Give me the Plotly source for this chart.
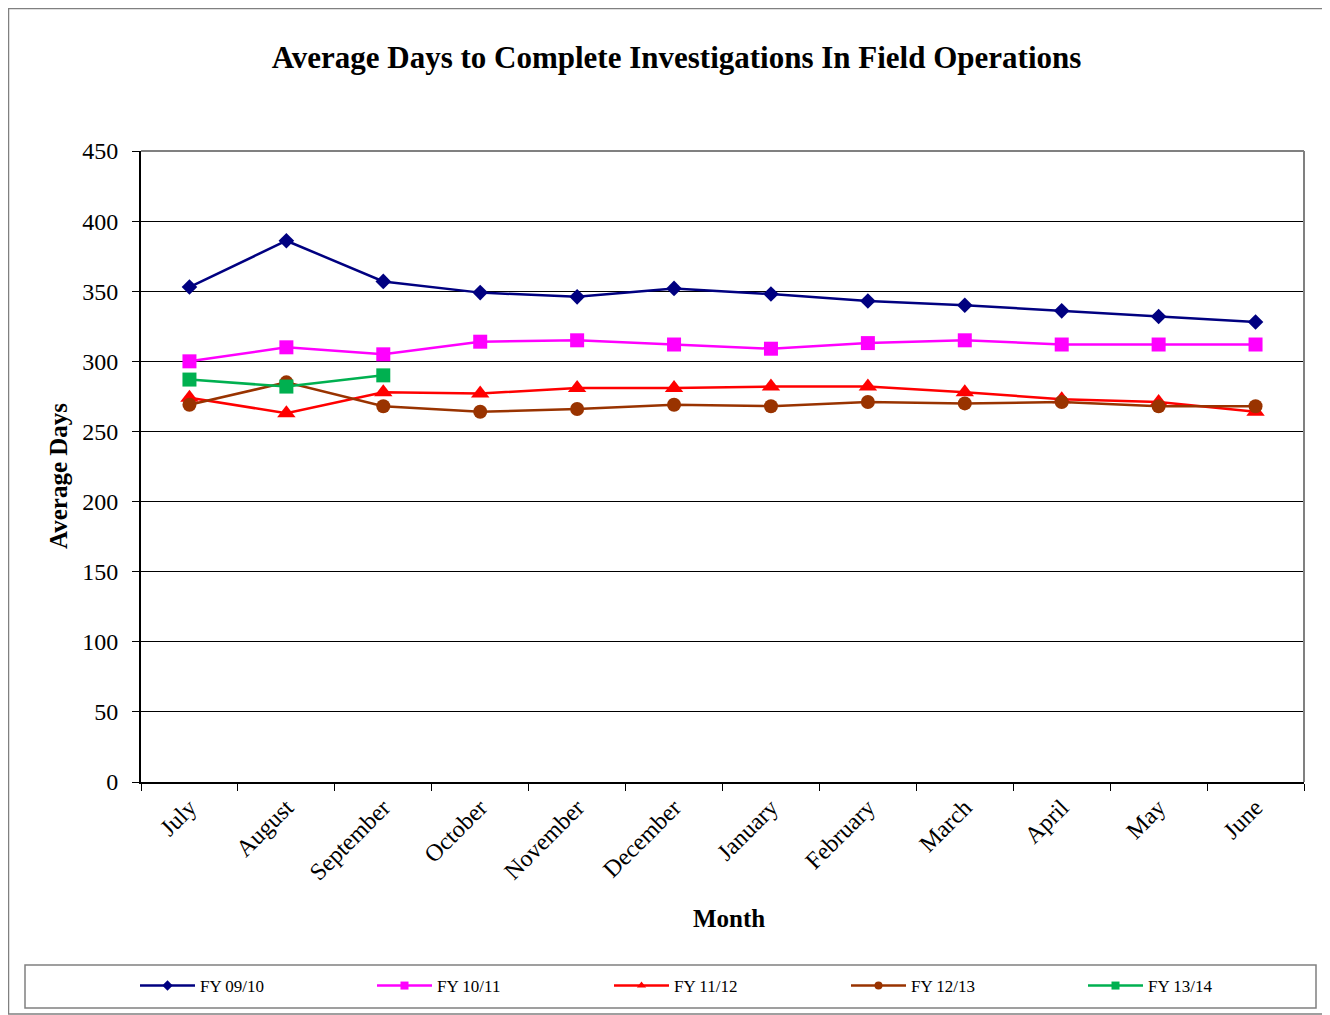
import plotly.graph_objects as go

months = ["July", "August", "September", "October", "November", "December",
          "January", "February", "March", "April", "May", "June"]

fy0910 = [353, 386, 357, 349, 346, 352, 348, 343, 340, 336, 332, 328]
fy1011 = [300, 310, 305, 314, 315, 312, 309, 313, 315, 312, 312, 312]
fy1112 = [274, 263, 278, 277, 281, 281, 282, 282, 278, 273, 271, 264]
fy1213 = [269, 285, 268, 264, 266, 269, 268, 271, 270, 271, 268, 268]
fy1314 = [287, 282, 290]

series = [
    ("FY 09/10", fy0910, "#000080", "diamond", 12),
    ("FY 10/11", fy1011, "#FF00FF", "square", 14),
    ("FY 11/12", fy1112, "#FF0000", "triangle-up", 16),
    ("FY 12/13", fy1213, "#993300", "circle", 14),
    ("FY 13/14", fy1314, "#00B050", "square", 14),
]

FONT = "Liberation Serif, Times New Roman, serif"

fig = go.Figure()
for name, vals, color, sym, sz in series:
    fig.add_trace(go.Scatter(
        x=months[:len(vals)], y=vals, name=name, mode="lines+markers",
        line=dict(color=color, width=2.5),
        marker=dict(symbol=sym, size=sz, color=color),
        showlegend=False, legendgroup=name,
    ))
# legend proxies with small markers, as in the reference legend
for name, vals, color, sym, sz in series:
    fig.add_trace(go.Scatter(
        x=[None], y=[None], name=name, mode="lines+markers",
        line=dict(color=color, width=2.5),
        marker=dict(symbol=sym, size=8, color=color),
        showlegend=True, legendgroup=name,
    ))

# page is rendered with an 8px body offset; work in figure coordinates
OFF = 8
W, H = 1330 - OFF, 1015 - OFF
L, R, T, B = 141 - OFF, 1304 - OFF, 151 - OFF, 782 - OFF
pw, ph = R - L, B - T


def px(x_abs):
    return (x_abs - OFF - L) / pw


def py(y_abs):
    return (B - (y_abs - OFF)) / ph


shapes = [
    dict(type="rect", xref="paper", yref="paper",
         x0=px(8.5), x1=px(1329), y0=py(1014), y1=py(8.5),
         line=dict(color="#808080", width=1.5), layer="below"),
    dict(type="rect", xref="paper", yref="paper",
         x0=px(25), x1=px(1316), y0=py(1008), y1=py(965),
         line=dict(color="#808080", width=1.5)),
    dict(type="line", xref="paper", yref="paper", x0=0, x1=1, y0=1, y1=1,
         line=dict(color="#808080", width=2)),
    dict(type="line", xref="paper", yref="paper", x0=1, x1=1, y0=0, y1=1,
         line=dict(color="#808080", width=2)),
]

annotations = [
    dict(text="<b>Month</b>", xref="paper", yref="paper",
         x=px(728.5), y=py(918), xanchor="center", yanchor="middle",
         showarrow=False, font=dict(size=25, family=FONT)),
    dict(text="<b>Average Days</b>", xref="paper", yref="paper",
         x=px(58), y=py(476), xanchor="center", yanchor="middle",
         textangle=-90, showarrow=False, font=dict(size=25, family=FONT)),
]

fig.update_layout(
    width=W, height=H,
    margin=dict(l=L, r=W - R, t=T, b=H - B, autoexpand=False),
    paper_bgcolor="white", plot_bgcolor="white",
    font=dict(family=FONT, color="black"),
    title=dict(text="<b>Average Days to Complete Investigations In Field Operations</b>",
               xref="paper", x=px(676.5), xanchor="center",
               y=1 - (57 - OFF) / H, yanchor="middle",
               font=dict(size=31, family=FONT)),
    xaxis=dict(
        type="category", categoryorder="array", categoryarray=months,
        tickson="boundaries", ticks="outside", ticklen=7, tickcolor="black",
        showline=True, linecolor="black", linewidth=2,
        showgrid=False, tickangle=-45, tickfont=dict(size=24, family=FONT),
        range=[-0.5, 11.5],
    ),
    yaxis=dict(
        range=[0, 450], dtick=50, ticks="outside", ticklen=7, tickcolor="black",
        showline=True, linecolor="black", linewidth=2,
        showgrid=True, gridcolor="black", gridwidth=1, zeroline=False,
        tickfont=dict(size=24, family=FONT), ticklabelstandoff=9,
    ),
    legend=dict(
        orientation="h", x=px(135), xanchor="left", y=py(986), yanchor="middle",
        itemwidth=55, entrywidth=167, entrywidthmode="pixels",
        font=dict(size=17, family=FONT), bgcolor="rgba(0,0,0,0)",
    ),
    shapes=shapes,
    annotations=annotations,
    showlegend=True,
)

fig.write_html("out.html")
